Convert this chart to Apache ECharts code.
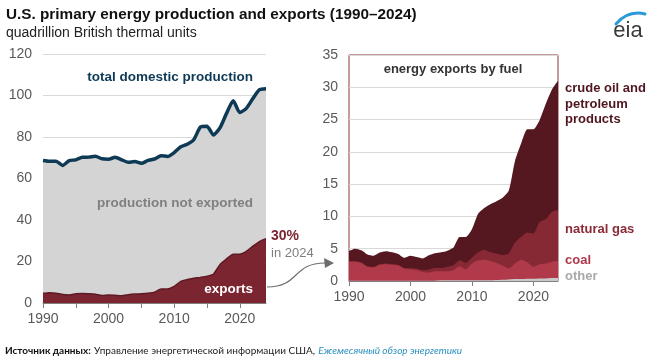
<!DOCTYPE html>
<html><head><meta charset="utf-8">
<script src="https://cdn.jsdelivr.net/npm/echarts@6/dist/echarts.min.js"></script>
<style>html,body{margin:0;padding:0;background:#fff}#c{width:662px;height:358px}</style>
</head><body><div id="c"></div>
<script>
const years = [1990,1991,1992,1993,1994,1995,1996,1997,1998,1999,2000,2001,2002,2003,2004,2005,2006,2007,2008,2009,2010,2011,2012,2013,2014,2015,2016,2017,2018,2019,2020,2021,2022,2023,2024];
const production = [68.7,68.3,68.3,66.3,68.6,69.0,70.2,70.3,70.7,69.5,69.3,70.2,69.0,67.8,68.2,67.3,68.7,69.4,71.0,70.6,72.5,75.3,76.5,78.8,84.8,85.2,81.0,84.5,91.5,97.5,91.8,93.8,98.5,102.8,103.3];
const otherExp = [0.05,0.05,0.05,0.05,0.05,0.05,0.05,0.05,0.05,0.05,0.05,0.05,0.05,0.05,0.05,0.1,0.1,0.1,0.1,0.1,0.1,0.1,0.1,0.1,0.15,0.2,0.25,0.3,0.3,0.35,0.35,0.4,0.4,0.45,0.45];
const coalExp = [2.95,2.95,2.75,2.15,2.05,2.45,2.55,2.45,2.35,1.85,1.75,1.65,1.35,1.25,1.45,1.4,1.4,1.6,2.2,1.7,2.6,3.1,3.2,3.0,2.65,2.2,1.65,2.4,3.0,2.55,1.85,2.2,2.3,2.55,2.65];
const gasExp = [0.1,0.1,0.1,0.1,0.1,0.1,0.1,0.1,0.1,0.1,0.2,0.2,0.3,0.5,0.55,0.5,0.7,0.75,0.9,1.0,0.9,1.25,1.55,1.35,1.45,1.6,2.35,3.25,3.5,4.6,5.15,6.55,6.85,7.7,7.85];
const crudeExp = [1.55,1.9,1.85,1.8,1.7,1.8,1.9,1.85,1.7,1.6,1.9,1.8,1.8,2.2,2.25,2.45,2.5,2.75,3.6,4.0,4.4,5.95,6.45,7.45,8.1,8.9,9.75,12.65,14.5,16.0,16.15,15.75,17.85,18.9,20.05];
const leftTicks = [0,20,40,60,80,100,120];
const rightTicks = [0,5,10,15,20,25,30,35];
const xLabels = [1990,2000,2010,2020];

// cumulative layers (bottom to top)
const cumOther = otherExp.slice();
const cumCoal = cumOther.map((v,i)=>v+coalExp[i]);
const cumGas = cumCoal.map((v,i)=>v+gasExp[i]);
const cumCrude = cumGas.map((v,i)=>v+crudeExp[i]);
const totalExp = cumCrude;
const pairs = arr => years.map((y,i)=>[y,arr[i]]);

const chart = echarts.init(document.getElementById('c'), null, {renderer:'canvas'});
const FONT = 'Liberation Sans, Arial, sans-serif';
const axisLbl = {color:'#595959', fontSize:14, fontFamily:FONT};

function xAxis(gi, interval){
  return {type:'value', gridIndex:gi, min:1990, max:2024, interval:interval,
    axisLine:{show:true, lineStyle:{color:'#808080', width:1}},
    axisTick:{show:true, length:5, lineStyle:{color:'#808080'}},
    splitLine:{show:false},
    axisLabel:Object.assign({margin:9, showMaxLabel:false, formatter:v=> xLabels.includes(v)? String(v):''}, axisLbl)};
}
function yAxis(gi, max, interval){
  return {type:'value', gridIndex:gi, min:0, max:max, interval:interval,
    axisLine:{show:false}, axisTick:{show:false},
    splitLine:{show:true, lineStyle:{color:'#d9d9d9', width:1}},
    axisLabel:Object.assign({margin:11}, axisLbl)};
}
function layer(name, arr, color, z){
  return {name:name, type:'line', xAxisIndex:1, yAxisIndex:1, data:pairs(arr), symbol:'none', smooth:0.2,
    lineStyle:{width:0}, areaStyle:{color:color, opacity:1}, z:z};
}

const option = {
  backgroundColor:'#fff',
  animation:false,
  grid:[
    {left:43, top:54, width:223, height:249},
    {left:349, top:55, width:209, height:226, show:true, borderColor:'#8e3440', borderWidth:1, backgroundColor:'transparent'}
  ],
  xAxis:[xAxis(0,5), xAxis(1,10)],
  yAxis:[yAxis(0,120,20), yAxis(1,35,5)],
  series:[
    {name:'total domestic production', type:'line', xAxisIndex:0, yAxisIndex:0, data:pairs(production), symbol:'none', smooth:0.2,
      lineStyle:{color:'#0e3a56', width:3.5}, areaStyle:{color:'#d4d4d4', opacity:1}, z:2},
    {name:'exports', type:'line', xAxisIndex:0, yAxisIndex:0, data:pairs(totalExp), symbol:'none', smooth:0.2,
      lineStyle:{color:'#5e1a24', width:1.5}, areaStyle:{color:'#7b2530', opacity:1}, z:3},
    layer('crude oil and petroleum products', cumCrude, '#551820', 2),
    layer('natural gas', cumGas, '#872835', 3),
    layer('coal', cumCoal, '#b13a4a', 4),
    layer('other', cumOther, '#c9c9c9', 5)
  ],
  graphic:[
    {type:'text', x:6, y:15, style:{text:'U.S. primary energy production and exports (1990–2024)', font:'bold 15.3px '+FONT, fill:'#111', verticalAlign:'middle'}},
    {type:'text', x:6, y:33, style:{text:'quadrillion British thermal units', font:'14px '+FONT, fill:'#222', verticalAlign:'middle'}},
    {type:'text', x:253, y:77, style:{text:'total domestic production', font:'bold 13.5px '+FONT, fill:'#0e3a56', align:'right', verticalAlign:'middle'}, z:10},
    {type:'text', x:253, y:203, style:{text:'production not exported', font:'bold 13.5px '+FONT, fill:'#808080', align:'right', verticalAlign:'middle'}, z:10},
    {type:'text', x:253, y:289, style:{text:'exports', font:'bold 13.5px '+FONT, fill:'#ffffff', align:'right', verticalAlign:'middle'}, z:10},
    {type:'text', x:271, y:236, style:{text:'30%', font:'bold 14px '+FONT, fill:'#7b2530', align:'left', verticalAlign:'middle'}, z:10},
    {type:'text', x:271, y:253, style:{text:'in 2024', font:'13px '+FONT, fill:'#7f7f7f', align:'left', verticalAlign:'middle'}, z:10},
    {type:'bezierCurve', shape:{x1:267, y1:287, cpx1:300, cpy1:287, cpx2:292, cpy2:263, x2:325, y2:263}, style:{stroke:'#6d6d6d', lineWidth:1.2, fill:null}, z:10},
    {type:'polygon', shape:{points:[[334,263],[324,258],[325,268]]}, style:{fill:'#6d6d6d'}, z:10},
    {type:'text', x:453, y:69, style:{text:'energy exports by fuel', font:'bold 13px '+FONT, fill:'#333', align:'center', verticalAlign:'middle'}, z:10},
    {type:'text', x:565, y:104, style:{text:'crude oil and\npetroleum\nproducts', font:'bold 13px '+FONT, fill:'#4f1520', align:'left', verticalAlign:'middle', lineHeight:15.5}, z:10},
    {type:'text', x:565, y:229, style:{text:'natural gas', font:'bold 13px '+FONT, fill:'#8b2a36', align:'left', verticalAlign:'middle'}, z:10},
    {type:'text', x:565, y:260, style:{text:'coal', font:'bold 13px '+FONT, fill:'#b0374a', align:'left', verticalAlign:'middle'}, z:10},
    {type:'text', x:565, y:276, style:{text:'other', font:'bold 13px '+FONT, fill:'#a8a8a8', align:'left', verticalAlign:'middle'}, z:10},
    {type:'text', x:5, y:351, style:{verticalAlign:'middle', rich:{b:{fontWeight:'bold', fontSize:10, fontFamily:'Lato, sans-serif', fill:'#111'}, r:{fontSize:10, fontFamily:'Lato, sans-serif', fill:'#222'}, i:{fontStyle:'italic', fontSize:10, fontFamily:'Lato, sans-serif', fill:'#2b8fc0'}},
      text:'{b|Источник данных:} {r|Управление энергетической информации США,} {i|Ежемесячный обзор энергетики}'}},
    {type:'bezierCurve', shape:{x1:616, y1:24, cpx1:628, cpy1:10, x2:645, y2:14}, style:{stroke:'#2a9bd8', lineWidth:3, fill:null, lineCap:'round'}},
    {type:'text', x:628, y:31, style:{text:'eia', font:'22px '+FONT, fill:'#3a3a3a', align:'center', verticalAlign:'middle'}}
  ]
};
chart.setOption(option);
</script></body></html>
